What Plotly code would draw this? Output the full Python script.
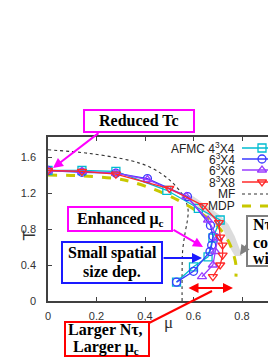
import plotly.graph_objects as go

# ---------------- data ----------------
mu_4x4 = [0.0, 0.14, 0.28, 0.49, 0.62, 0.71, 0.68, 0.66, 0.60, 0.53]
T_4x4 = [1.45, 1.45, 1.44, 1.23, 1.03, 0.90, 0.70, 0.49, 0.38, 0.21]

mu_6x4 = [0.0, 0.14, 0.28, 0.41, 0.575, 0.67, 0.68, 0.675, 0.668, 0.60, 0.53]
T_6x4 = [1.45, 1.43, 1.42, 1.36, 1.16, 0.84, 0.72, 0.62, 0.55, 0.33, 0.21]

mu_6x6 = [0.0, 0.14, 0.28, 0.41, 0.57, 0.66, 0.70, 0.69, 0.68, 0.635]
T_6x6 = [1.45, 1.44, 1.42, 1.35, 1.16, 0.90, 0.70, 0.55, 0.40, 0.27]

mu_8x8 = [0.0, 0.14, 0.28, 0.50, 0.64, 0.705, 0.71, 0.72, 0.72, 0.71, 0.68]
T_8x8 = [1.45, 1.44, 1.41, 1.25, 1.06, 0.87, 0.71, 0.62, 0.51, 0.40, 0.27]

mu_MF = [0.0, 0.17, 0.34, 0.41, 0.47, 0.515, 0.55, 0.57, 0.578, 0.575, 0.565, 0.555, 0.553, 0.553]
T_MF = [1.68, 1.64, 1.56, 1.50, 1.41, 1.31, 1.20, 1.10, 1.00, 0.90, 0.75, 0.55, 0.30, 0.0]

mu_MDP = [0.0, 0.14, 0.28, 0.35, 0.475, 0.557, 0.62, 0.67, 0.71, 0.745, 0.765, 0.775, 0.775]
T_MDP = [1.40, 1.39, 1.36, 1.32, 1.20, 1.09, 0.99, 0.90, 0.80, 0.66, 0.52, 0.40, 0.27]

mu_band = [0.55, 0.60, 0.66, 0.71, 0.745, 0.77, 0.79, 0.80, 0.77, 0.745, 0.725, 0.70, 0.65, 0.60, 0.55]
T_band = [1.20, 1.16, 1.05, 0.95, 0.85, 0.72, 0.58, 0.50, 0.50, 0.62, 0.78, 0.88, 0.97, 1.07, 1.15]

x_ticks = [0, 0.2, 0.4, 0.6, 0.8]
x_ticktext = ["0", "0.2", "0.4", "0.6", "0.8"]
y_ticks = [0, 0.4, 0.8, 1.2, 1.6]
y_ticktext = ["0", "0.4", "0.8", "1.2", "1.6"]

series_names = ["AFMC 4<sup>3</sup>X4", "6<sup>3</sup>X4", "6<sup>3</sup>X6", "8<sup>3</sup>X8"]
series_colors = ["#00bcd0", "#3a3aff", "#9a3cff", "#ff2a2a"]
series_symbols = ["square-open", "circle-open", "triangle-up-open", "triangle-down-open"]

# ---------------- layout geometry ----------------
# The page body has an 8px margin, so the figure starts at (8, 8) of the window.
OFF = 8
W, H = 276 - OFF, 357 - OFF
PL, PR, PT, PB = 48, 276, 137, 301          # plot area in window pixels
ML, MT, MB = PL - OFF, PT - OFF, 357 - PB
PW, PH = PR - PL, PB - PT
XMAX = PW / 242.5
YMAX = PH / 90.0


def px(x):
    return (x - PL) / PW


def py(y):
    return (PB - y) / PH


SERIF = "Liberation Serif, Times New Roman, serif"
SANS = "Liberation Sans, Arial, sans-serif"

fig = go.Figure()

fig.add_trace(go.Scatter(x=mu_band, y=T_band, fill="toself", mode="lines",
                         fillcolor="rgba(205,205,205,0.7)", line=dict(width=0),
                         hoverinfo="skip", showlegend=False))
fig.add_trace(go.Scatter(x=mu_MF, y=T_MF, mode="lines", showlegend=False,
                         line=dict(color="#333333", width=1.1, dash="dot", shape="spline")))
fig.add_trace(go.Scatter(x=mu_MDP, y=T_MDP, mode="lines", showlegend=False,
                         line=dict(color="#c8c800", width=3, dash="dash", shape="spline")))

for mu, T, c, s in zip([mu_4x4, mu_6x4, mu_6x6, mu_8x8], [T_4x4, T_6x4, T_6x6, T_8x8],
                       series_colors, series_symbols):
    fig.add_trace(go.Scatter(x=mu, y=T, mode="lines+markers", showlegend=False,
                             line=dict(color=c, width=1.3),
                             marker=dict(symbol=s, size=8, color=c, line=dict(width=1.3, color=c))))

# ---------------- custom legend (gnuplot style: text then sample) ----------------
legend_rows = [148, 159, 170, 182, 194, 206]
legend_labels = series_names + ["MF", "MDP"]
for i, (lab, yy) in enumerate(zip(legend_labels, legend_rows)):
    fig.add_annotation(x=px(237), y=py(yy), xref="paper", yref="paper", text=lab,
                       showarrow=False, xanchor="right", yanchor="middle",
                       font=dict(family=SANS, size=12, color="#222222"))
    if i < 4:
        fig.add_trace(go.Scatter(x=[242, 262, 300], y=[yy, yy, yy], xaxis="x2", yaxis="y2",
                                 mode="lines+markers", showlegend=False, hoverinfo="skip",
                                 line=dict(color=series_colors[i], width=1.3),
                                 marker=dict(symbol=series_symbols[i], size=8, opacity=[0, 1, 0],
                                             color=series_colors[i],
                                             line=dict(width=1.3, color=series_colors[i]))))
    elif i == 4:
        fig.add_trace(go.Scatter(x=[242, 300], y=[yy, yy], xaxis="x2", yaxis="y2", mode="lines",
                                 showlegend=False, hoverinfo="skip",
                                 line=dict(color="#333333", width=1.1, dash="dot")))
    else:
        fig.add_trace(go.Scatter(x=[242, 300], y=[yy, yy], xaxis="x2", yaxis="y2", mode="lines",
                                 showlegend=False, hoverinfo="skip",
                                 line=dict(color="#c8c800", width=3, dash="dash")))

# ---------------- boxes ----------------
def box(x0, y0, x1, y1, color, width=2):
    fig.add_shape(type="rect", xref="paper", yref="paper", x0=px(x0), x1=px(x1),
                  y0=py(y1), y1=py(y0), line=dict(color=color, width=width),
                  fillcolor="white", layer="above")


def text(x, y, t, size=16, anchor="center", color="black", family=SERIF):
    fig.add_annotation(x=px(x), y=py(y), xref="paper", yref="paper", text=t, showarrow=False,
                       xanchor=anchor, yanchor="middle", font=dict(family=family, size=size, color=color))


def arrow(tip_x, tip_y, tail_x, tail_y, color, side="end"):
    fig.add_annotation(x=(tip_x - PL) / 242.5, y=(PB - tip_y) / 90.0, xref="x", yref="y",
                       ax=tail_x - tip_x, ay=tail_y - tip_y, text="", showarrow=True,
                       arrowhead=2, arrowsize=1, arrowwidth=2, arrowcolor=color, arrowside=side)


MAG = "#ff00ff"
box(84, 110, 194, 132, MAG)
text(139, 121, "<b>Reduced Tc</b>")
arrow(53, 168, 100, 132, MAG)

box(68, 207, 172, 231, MAG)
text(120, 219, "<b>Enhanced μ<sub>c</sub></b>")
arrow(203, 247, 172, 229, MAG)

box(62, 242, 162, 283, "#1a1aff")
text(112, 253, "<b>Small spatial</b>")
text(112, 272, "<b>size dep.</b>")
arrow(202, 258, 162, 258, "#1a1aff")

box(65, 322, 149, 356, "#ff0000")
text(105, 330, "<b>Larger Nτ,</b>")
text(106, 347, "<b>Larger μ<sub>c</sub></b>")
fig.add_shape(type="line", xref="paper", yref="paper", x0=px(149), y0=py(323), x1=px(212),
              y1=py(291), line=dict(color="#ff0000", width=2), layer="above")
arrow(233, 288, 187, 288, "#ff0000", side="end+start")

box(247, 216, 310, 266, "#808080")
text(251, 224, "<b>Nτ → ∞</b>", anchor="left")
text(251, 242, "<b>continuum</b>", anchor="left")
text(251, 258, "<b>with MDP</b>", anchor="left")
arrow(240, 255, 248, 243, "#808080")

# axis titles
text(168, 322, "μ", size=17, color="#333333")
fig.add_annotation(x=px(17), y=py(236), xref="paper", yref="paper", text="T", showarrow=False,
                   textangle=-90, font=dict(family=SANS, size=17, color="#333333"))

fig.update_layout(
    width=W, height=H, margin=dict(l=ML, r=0, t=MT, b=MB, pad=0),
    paper_bgcolor="white", plot_bgcolor="white", showlegend=False,
    xaxis=dict(range=[0, XMAX], tickvals=x_ticks, ticktext=x_ticktext, ticks="inside", ticklen=4,
               tickcolor="#404040", showline=True, linecolor="#404040", linewidth=1.5,
               mirror="ticks", showgrid=False, zeroline=False, ticklabelstandoff=4,
               tickfont=dict(family=SANS, size=11, color="#333333")),
    yaxis=dict(range=[0, YMAX], tickvals=y_ticks, ticktext=y_ticktext, ticks="inside", ticklen=4,
               tickcolor="#404040", showline=True, linecolor="#404040", linewidth=1.5,
               mirror=False, showgrid=False, zeroline=False, ticklabelstandoff=8,
               tickfont=dict(family=SANS, size=11, color="#333333")),
    xaxis2=dict(range=[PL, PR], overlaying="x", visible=False, fixedrange=True),
    yaxis2=dict(range=[PB, PT], overlaying="y", visible=False, fixedrange=True),
)

fig.write_html("out.html")
